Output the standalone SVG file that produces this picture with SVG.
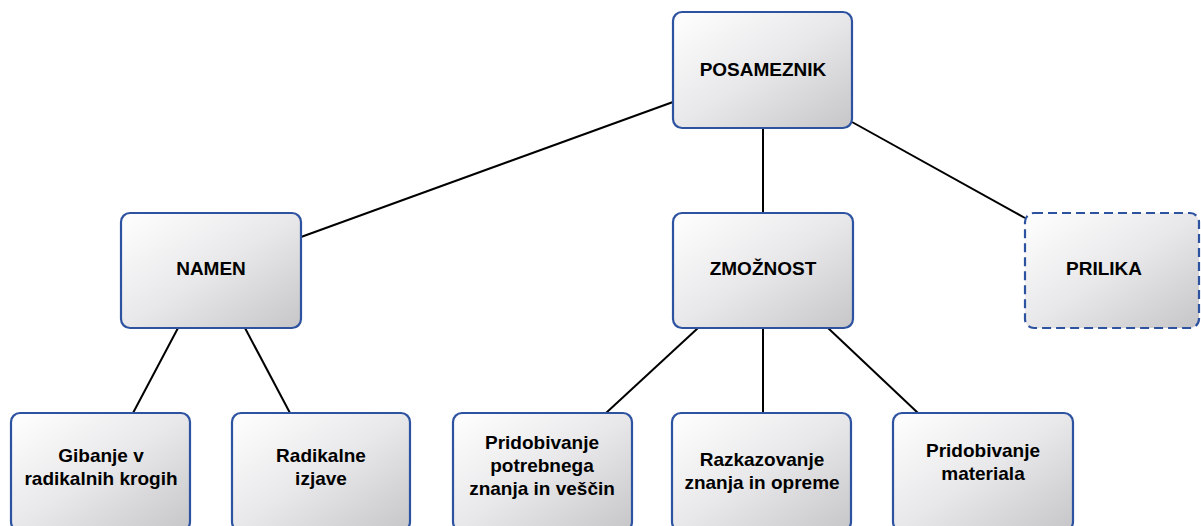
<svg xmlns="http://www.w3.org/2000/svg" width="1201" height="526" viewBox="0 0 1201 526">
<defs>
<linearGradient id="g" x1="0" y1="0" x2="1" y2="1">
<stop offset="0" stop-color="#ffffff"/>
<stop offset="0.5" stop-color="#e8e8ea"/>
<stop offset="1" stop-color="#c6c6c8"/>
</linearGradient>
<style>
.box{fill:url(#g);stroke:#2d52a0;stroke-width:2.2}
.dash{stroke-dasharray:9 5}
.t{font-family:"Liberation Sans",Arial,sans-serif;font-weight:bold;font-size:19px;fill:#000;text-anchor:middle}
.c line{stroke:#000;stroke-width:2}
</style>
</defs>
<rect width="1201" height="526" fill="#fff"/>
<g class="c" id="connectors">
<line x1="673" y1="102" x2="301" y2="237"/>
<line x1="763" y1="128" x2="763" y2="213"/>
<line x1="852" y1="122" x2="1025" y2="218"/>
<line x1="178" y1="328" x2="133" y2="413"/>
<line x1="245" y1="328" x2="290" y2="413"/>
<line x1="698" y1="328" x2="606" y2="413"/>
<line x1="763" y1="328" x2="763" y2="413"/>
<line x1="828" y1="328" x2="918" y2="413"/>
</g>
<g id="posameznik"><rect class="box" x="673" y="12" width="179" height="116" rx="9"/><text class="t" x="763" y="76">POSAMEZNIK</text></g>
<g id="namen"><rect class="box" x="121" y="213" width="180" height="115" rx="9"/><text class="t" x="211" y="275">NAMEN</text></g>
<g id="zmoznost"><rect class="box" x="673" y="213" width="180" height="115" rx="9"/><text class="t" x="763" y="275">ZMOŽNOST</text></g>
<g id="prilika"><rect class="box dash" x="1025" y="213" width="174" height="115" rx="9"/><text class="t" x="1104" y="275">PRILIKA</text></g>
<g id="gibanje"><rect class="box" x="11" y="413" width="179" height="118" rx="9"/><text class="t" x="101" y="462">Gibanje v</text><text class="t" x="101" y="485">radikalnih krogih</text></g>
<g id="radikalne"><rect class="box" x="232" y="413" width="178" height="118" rx="9"/><text class="t" x="321" y="462">Radikalne</text><text class="t" x="321" y="485">izjave</text></g>
<g id="pridobivanje1"><rect class="box" x="453" y="413" width="179" height="118" rx="9"/><text class="t" x="542" y="449">Pridobivanje</text><text class="t" x="542" y="472">potrebnega</text><text class="t" x="542" y="495">znanja in veščin</text></g>
<g id="razkazovanje"><rect class="box" x="672" y="413" width="179" height="118" rx="9"/><text class="t" x="762" y="466">Razkazovanje</text><text class="t" x="762" y="489">znanja in opreme</text></g>
<g id="pridobivanje2"><rect class="box" x="893" y="413" width="180" height="118" rx="9"/><text class="t" x="983" y="457">Pridobivanje</text><text class="t" x="983" y="480">materiala</text></g>
</svg>
